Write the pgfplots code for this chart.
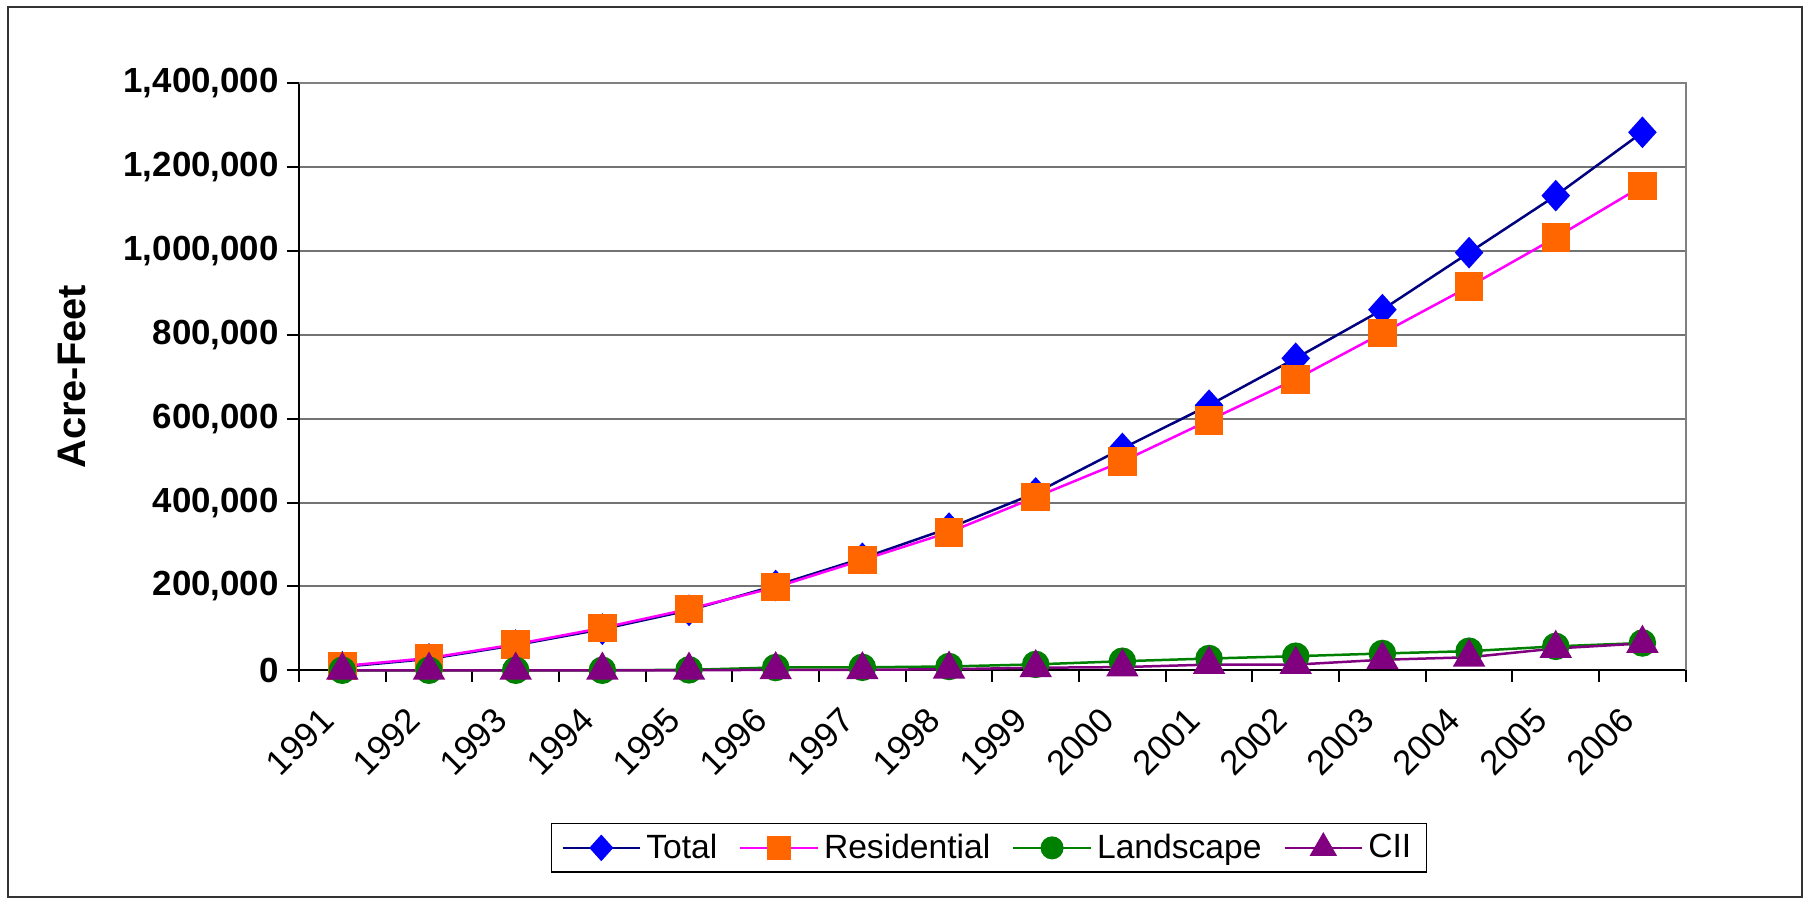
\documentclass[border=0pt]{standalone}
\usepackage{pgfplots}
\usepackage{pgfplotstable}
\pgfplotsset{compat=1.18}
\usepackage{fontspec}
\setmainfont{Liberation Sans}
\definecolor{navyline}{RGB}{0,0,128}
\definecolor{diamblue}{RGB}{0,0,255}
\definecolor{magline}{RGB}{255,0,255}
\definecolor{sqorange}{RGB}{255,102,0}
\definecolor{grn}{RGB}{0,128,0}
\definecolor{purp}{RGB}{128,0,128}
\pgfplotstableread{
x total res land cii
0 8000 10000 0 0
1 27000 29000 0 0
2 60000 62000 0 0
3 98000 101000 0 0
4 143000 146000 1000 0
5 202000 198000 6500 1000
6 267000 263000 7000 1000
7 339000 329000 9000 2500
8 423000 413000 14000 6000
9 529000 498000 21500 7500
10 632000 596000 28000 13500
11 744000 694000 33500 13500
12 860000 804000 40000 25000
13 996000 915000 45500 31000
14 1132000 1032000 57000 52000
15 1283000 1155000 65000 64000
}\datatable
\begin{document}
\begin{tikzpicture}
\begin{axis}[
  at={(0,0)}, anchor=south west,
  scale only axis, width=554.7bp, height=234.8bp,
  xmin=-0.5, xmax=15.5, ymin=0, ymax=1400000,
  clip=false,
  axis x line*=bottom, axis y line*=left,
  axis line style={black, line width=0.8bp, -},
  xtick={0,1,...,15},
  xticklabels={1991,1992,1993,1994,1995,1996,1997,1998,1999,2000,2001,2002,2003,2004,2005,2006},
  minor xtick={-0.5,0.5,...,15.5},
  major x tick style={draw=none},
  minor x tick style={black, line width=0.8bp},
  ytick={0,200000,400000,600000,800000,1000000,1200000,1400000},
  y tick style={black, line width=0.8bp},
  tick align=outside,
  major tick length=4.6bp, minor tick length=4.6bp,
  ymajorgrids, grid style={black!55, line width=0.8bp},
  scaled y ticks=false,
  /pgf/number format/assume math mode=true,
  yticklabel style={font=\fontsize{14}{16}\selectfont\bfseries, /pgf/number format/.cd, fixed, 1000 sep={,}},
  xticklabel style={font=\fontsize{14}{16}\selectfont, xshift=-3.5bp, rotate=45, anchor=east},
  xticklabel shift=10.5bp,
  every axis y label/.style={at={(axis description cs:-0.147,0.5)}, rotate=90, anchor=south, font=\fontsize{16}{19}\selectfont\bfseries},
  ylabel={Acre-Feet},
  legend columns=4,
  legend style={at={(0.4974,-0.2606)}, anchor=north, draw=black, line width=0.5bp,
    font=\fontsize{13.5}{16}\selectfont, inner xsep=4bp, inner ysep=2bp,
    /tikz/every even column/.append style={column sep=6.7bp}},
  legend image code/.code={\draw[mark repeat=2, mark phase=2, #1, /tikz/every mark/.append style={scale=0.82}] plot coordinates {(0bp,0bp) (15.5bp,0bp) (31bp,0bp)};},
]
\addplot[navyline, line width=1bp, mark=diamond*, mark size=5.6bp, mark options={solid, fill=diamblue, draw=diamblue, xscale=1.2}] table[x=x, y=total] {\datatable};
\addlegendentry{Total}
\addplot[magline, line width=1bp, mark=square*, mark size=5.2bp, mark options={solid, fill=sqorange, draw=sqorange}] table[x=x, y=res] {\datatable};
\addlegendentry{Residential}
\addplot[grn, line width=1bp, mark=*, mark size=5bp, mark options={solid, fill=grn, draw=grn}] table[x=x, y=land] {\datatable};
\addlegendentry{Landscape}
\addplot[purp, line width=1bp, mark=triangle*, mark size=6.5bp, mark options={solid, fill=purp, draw=purp}] table[x=x, y=cii] {\datatable};
\addlegendentry{CII}
\draw[black!50, line width=0.8bp] (rel axis cs:0,1) -- (rel axis cs:1,1) -- (rel axis cs:1,0);
\end{axis}
\draw[black!80, line width=0.8bp] (-116.3bp,-90.6bp) rectangle (601.3bp,265.4bp);
\path (-119.6bp,-91.1bp) rectangle (602.4bp,268.1bp);
\end{tikzpicture}
\end{document}
